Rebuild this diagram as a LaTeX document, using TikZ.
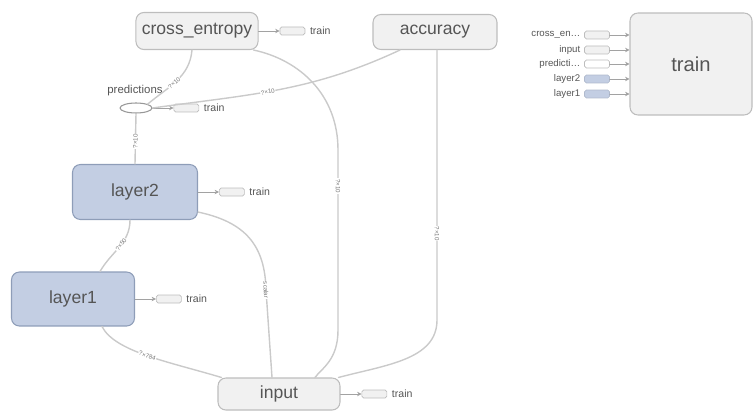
\documentclass[tikz,border=0pt]{standalone}
\usepackage{fontspec}
\setmainfont{Liberation Sans}
\usetikzlibrary{arrows.meta,positioning,shapes.geometric}
\definecolor{opfill}{HTML}{F1F1F1}
\definecolor{opdraw}{HTML}{BDBDBD}
\definecolor{layfill}{HTML}{C3CEE3}
\definecolor{laydraw}{HTML}{8E9DB8}
\definecolor{edgegray}{HTML}{CACACA}
\definecolor{txtgray}{HTML}{555555}
\begin{document}
\begin{tikzpicture}[x=0.02cm, y=-0.02cm, line join=round, line cap=round,
    op/.style={draw=opdraw, fill=opfill, rounded corners=4.5pt, line width=0.6pt, text=txtgray, font=\fontsize{10}{12}\selectfont},
    layer/.style={op, draw=laydraw, fill=layfill},
    stub/.style={draw=opdraw, fill=opfill, rounded corners=1pt, minimum width=0.5cm, minimum height=0.16cm, inner sep=0pt, line width=0.4pt},
    laystub/.style={stub, draw=laydraw!70, fill=layfill},
    predstub/.style={stub, fill=white},
    tiny/.style={font=\fontsize{5.5}{6}\selectfont, text=txtgray, inner sep=1pt},
    edge/.style={draw=edgegray, line width=0.8pt},
    elabel/.style={font=\fontsize{3.5}{4}\selectfont, text=txtgray!80, sloped, fill=white, inner sep=0.4pt},
    tip/.style={draw=edgegray!80!black, line width=0.5pt, -{Stealth[length=2.5pt,width=2.5pt]}}]
    \useasboundingbox (0,0) rectangle (753,412);
    \node[op, minimum width=2.42cm, minimum height=0.74cm] (xent) at (197,31) {cross\_entropy};
    \node[op, minimum width=2.48cm, minimum height=0.70cm] (acc) at (435,32) {accuracy};
    \node[ellipse, draw=opdraw!80!black, fill=white, minimum width=0.64cm, minimum height=0.2cm, inner sep=0pt, line width=0.6pt] (pred) at (136,108) {};
    \node[tiny, font=\fontsize{6.5}{7}\selectfont] (predname) at (135,91) {predictions};
    \node[layer, minimum width=2.5cm, minimum height=1.1cm] (l2) at (135,192) {layer2};
    \node[layer, minimum width=2.46cm, minimum height=1.08cm] (l1) at (73,299) {layer1};
    \node[op, minimum width=2.44cm, minimum height=0.64cm] (inp) at (279,394) {input};
    \node[op, minimum width=2.44cm, minimum height=2.04cm, font=\fontsize{11.5}{13}\selectfont] (train) at (691,64) {train};
    \foreach \n/\s in {xent/stub, pred/stub, l2/stub, l1/stub, inp/stub}{
        \node[\s, right=0.42cm of \n] (\n out) {};
        \node[tiny, font=\fontsize{6}{7}\selectfont, right=1.5pt of \n out] (\n lab) {train};
        \draw[tip] (\n) -- (\n out);
    }
    \foreach \y/\n/\t/\s in {35/a/cross\_en\ldots/stub, 50/b/input/stub, 64/c/predicti\ldots/predstub, 79/d/layer2/laystub, 94/e/layer1/laystub}{
        \node[\s] (leg\n) at (597,\y) {};
        \node[tiny, left=1pt of leg\n] (legt\n) {\t};
        \draw[tip] (leg\n.east) -- (train.west |- leg\n.east);
    }
    \draw[edge] ([xshift=-0.1cm]xent.south) to[out=-95, in=40] node[elabel, pos=0.55] {?×10} (pred.north east);
    \draw[edge] ([xshift=-0.7cm]acc.south) to[out=-155, in=8] node[elabel, pos=0.55] {?×10} (pred.east);
    \draw[edge] (pred.south) -- node[elabel, pos=0.55] {?×10} (l2.north);
    \draw[edge] ([xshift=-0.1cm]l2.south) to[out=-90, in=60] node[elabel, pos=0.45] {?×50} ([xshift=0.54cm]l1.north);
    \draw[edge] ([xshift=-0.1cm]xent.south east) .. controls (300,60) and (338,95) .. (338,150) -- node[elabel, pos=0.2] {?×10} (338,330) .. controls (338,360) and (322,368) .. ([xshift=0.72cm]inp.north);
    \draw[edge] ([xshift=0.04cm]acc.south) -- node[elabel, pos=0.68] {?×10} (437,320) .. controls (437,360) and (385,365) .. ([xshift=-0.04cm]inp.north east);
    \draw[edge] ([yshift=0.16cm]l2.south east) .. controls (245,222) and (265,245) .. (266,290) -- node[elabel, pos=0.0, anchor=center] {scalar} ([xshift=-0.14cm]inp.north);
    \draw[edge] ([xshift=0.58cm]l1.south) .. controls (115,352) and (170,362) .. node[elabel, pos=0.5] {?×784} ([xshift=0.08cm]inp.north west);
\end{tikzpicture}
\end{document}
